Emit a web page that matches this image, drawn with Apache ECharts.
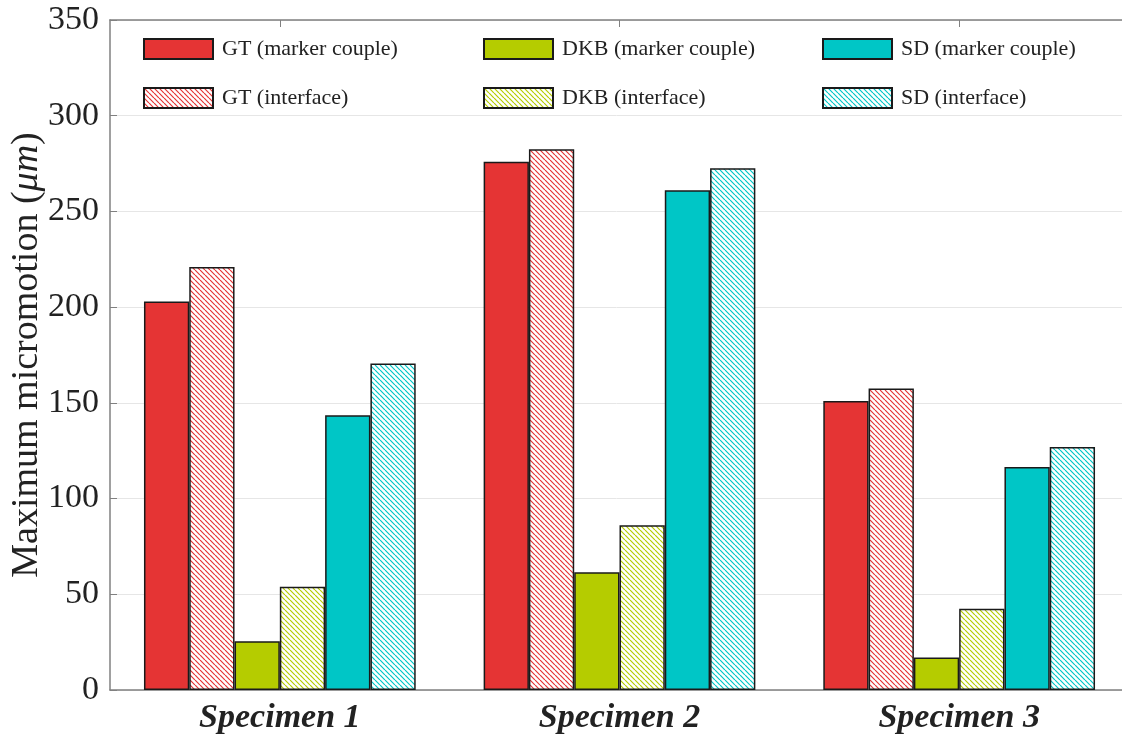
<!DOCTYPE html>
<html>
<head>
<meta charset="utf-8">
<script src="https://cdn.jsdelivr.net/npm/echarts@6/dist/echarts.min.js"></script>
<style>html,body{margin:0;padding:0;background:#fff}#c{width:1122px;height:742px}</style>
</head>
<body>
<div id="c"></div>
<script>
const categories = ['Specimen 1', 'Specimen 2', 'Specimen 3'];
const seriesNames = ['GT (marker couple)', 'GT (interface)', 'DKB (marker couple)', 'DKB (interface)', 'SD (marker couple)', 'SD (interface)'];
const gtMarker = [203, 276, 151];
const gtInterface = [221, 282.5, 157.5];
const dkbMarker = [25.5, 61.5, 17];
const dkbInterface = [54, 86, 42.5];
const sdMarker = [143.5, 261, 116.5];
const sdInterface = [170.5, 272.5, 127];
const yTicks = [0, 50, 100, 150, 200, 250, 300, 350];

const RED = '#e53434', GREEN = '#b5cc00', CYAN = '#00c6c6';

function hatch(color) {
  const s = 5;
  const c = document.createElement('canvas');
  c.width = s; c.height = s;
  const g = c.getContext('2d');
  g.fillStyle = '#fff';
  g.fillRect(0, 0, s, s);
  g.strokeStyle = color;
  g.lineWidth = 1.2;
  g.beginPath();
  for (const o of [-s, 0, s]) {
    g.moveTo(o, 0);
    g.lineTo(o + s, s);
  }
  g.stroke();
  return { image: c, repeat: 'repeat' };
}

const dataSets = [gtMarker, gtInterface, dkbMarker, dkbInterface, sdMarker, sdInterface];
const fills = [RED, hatch(RED), GREEN, hatch(GREEN), CYAN, hatch(CYAN)];

const series = dataSets.map((d, i) => ({
  name: seriesNames[i],
  type: 'bar',
  data: d,
  barGap: '0%',
  barCategoryGap: '20%',
  itemStyle: { color: fills[i], borderColor: '#1a1a1a', borderWidth: 1.5 },
  emphasis: { disabled: true }
}));

const font = '"Liberation Serif", "Times New Roman", serif';
const legendCommon = {
  orient: 'vertical', top: 38, padding: 0, itemWidth: 69, itemHeight: 20, itemGap: 27,
  icon: 'rect', selectedMode: false,
  textStyle: { fontFamily: font, fontSize: 22, color: '#222', padding: [0, 0, 0, 4] }
};

const chart = echarts.init(document.getElementById('c'), null, { renderer: 'canvas' });
chart.setOption({
  animation: false,
  backgroundColor: '#fff',
  grid: { left: 110, top: 20, right: -7, bottom: 52, containLabel: false, outerBoundsMode: 'none' },
  legend: [
    Object.assign({}, legendCommon, { left: 143, data: [seriesNames[0], seriesNames[1]] }),
    Object.assign({}, legendCommon, { left: 483, data: [seriesNames[2], seriesNames[3]] }),
    Object.assign({}, legendCommon, { left: 822, data: [seriesNames[4], seriesNames[5]] })
  ],
  xAxis: [
    {
      type: 'category', data: categories, position: 'bottom',
      axisLine: { lineStyle: { color: '#808080', width: 1.5 } },
      axisTick: { show: false },
      axisLabel: { margin: 11, fontFamily: font, fontSize: 34, fontWeight: 'bold', fontStyle: 'italic', color: '#222' }
    },
    {
      type: 'category', data: categories, position: 'top',
      axisLine: { show: true, lineStyle: { color: '#808080', width: 1.5 } },
      axisTick: { show: true, inside: true, alignWithLabel: true, length: 7, lineStyle: { color: '#808080' } },
      axisLabel: { show: false }
    }
  ],
  yAxis: {
    type: 'value', min: 0, max: 350, interval: 50,
    name: '{a|Maximum micromotion (}{b|μm}{a|)}',
    nameLocation: 'middle', nameGap: 64, nameMoveOverlap: false,
    nameTextStyle: {
      rich: {
        a: { fontFamily: font, fontSize: 38, color: '#222' },
        b: { fontFamily: font, fontSize: 38, fontStyle: 'italic', color: '#222' }
      }
    },
    axisLine: { show: true, lineStyle: { color: '#808080', width: 1.5 } },
    axisTick: { show: true, inside: true, length: 7, lineStyle: { color: '#808080' } },
    splitLine: { show: true, lineStyle: { color: '#e6e6e6', width: 1 } },
    axisLabel: {
      margin: 11, fontFamily: font, fontSize: 34, color: '#222',
      formatter: v => yTicks.includes(v) ? String(v) : ''
    }
  },
  series: series
});
</script>
</body>
</html>
